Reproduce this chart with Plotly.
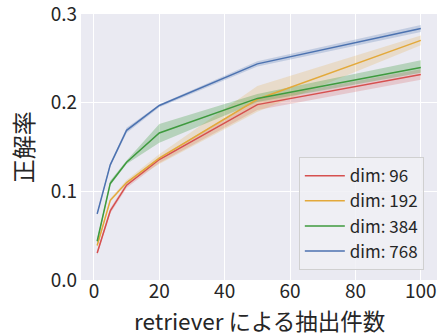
import plotly.graph_objects as go

x_vals = [1, 5, 10, 20, 50, 100]
labels = ["dim: 96", "dim: 192", "dim: 384", "dim: 768"]
mean_96 = [0.0305, 0.078, 0.107, 0.136, 0.198, 0.232]
low_96 = [0.028, 0.075, 0.104, 0.132, 0.192, 0.226]
high_96 = [0.033, 0.081, 0.110, 0.139, 0.204, 0.238]
mean_192 = [0.039, 0.090, 0.110, 0.1375, 0.204, 0.2705]
low_192 = [0.037, 0.088, 0.108, 0.131, 0.190, 0.265]
high_192 = [0.041, 0.092, 0.113, 0.142, 0.219, 0.276]
mean_384 = [0.0437, 0.109, 0.133, 0.166, 0.205, 0.240]
low_384 = [0.041, 0.107, 0.131, 0.155, 0.201, 0.234]
high_384 = [0.046, 0.112, 0.135, 0.176, 0.210, 0.248]
mean_768 = [0.0746, 0.130, 0.169, 0.197, 0.244, 0.284]
low_768 = [0.073, 0.128, 0.166, 0.195, 0.241, 0.280]
high_768 = [0.077, 0.132, 0.172, 0.198, 0.247, 0.288]
y_ticks = [0.0, 0.1, 0.2, 0.3]
x_ticks = [0, 20, 40, 60, 80, 100]

colors = ["#D6504F", "#E3A93A", "#3E9A3E", "#4C72B0"]
fills = ["rgba(214,80,79,0.22)", "rgba(227,169,58,0.22)", "rgba(62,154,62,0.3)", "rgba(76,114,176,0.25)"]
series = [(mean_96, low_96, high_96), (mean_192, low_192, high_192),
          (mean_384, low_384, high_384), (mean_768, low_768, high_768)]

fig = go.Figure()
for (m, lo, hi), lab, c, f in zip(series, labels, colors, fills):
    fig.add_trace(go.Scatter(x=x_vals, y=lo, mode="lines", line=dict(width=0),
                             showlegend=False, hoverinfo="skip"))
    fig.add_trace(go.Scatter(x=x_vals, y=hi, mode="lines", line=dict(width=0),
                             fill="tonexty", fillcolor=f, showlegend=False, hoverinfo="skip"))
for (m, lo, hi), lab, c in zip(series, labels, colors):
    fig.add_trace(go.Scatter(x=x_vals, y=m, mode="lines", name=lab,
                             line=dict(color=c, width=1.5)))

font = "Noto Sans CJK JP"
fig.update_layout(
    width=443, height=335,
    margin=dict(l=81, r=6, t=14, b=55),
    paper_bgcolor="white", plot_bgcolor="#EAEAF2",
    font=dict(family=font, color="#262626", size=19),
    xaxis=dict(range=[-3.95, 104.95], tickvals=x_ticks, showgrid=True, gridcolor="white",
               gridwidth=1.2, zeroline=False, showline=False, ticks="",
               tickfont=dict(size=19), ticklabelstandoff=-2,
               automargin=False, ticklabeloverflow="allow"),
    yaxis=dict(range=[0, 0.3003], tickvals=y_ticks, ticktext=["0.0", "0.1", "0.2", "0.3"],
               showgrid=True, gridcolor="white",
               gridwidth=1.2, zeroline=False, showline=False, ticks="",
               tickfont=dict(size=19), ticklabelstandoff=3, automargin=False,
               ticklabeloverflow="allow"),
    legend=dict(x=0.963, y=0.037, xanchor="right", yanchor="bottom", traceorder="normal",
                bgcolor="rgba(240,240,245,0.85)", bordercolor="#d0d0d0", borderwidth=1,
                font=dict(size=17), tracegroupgap=0, itemwidth=40),
    annotations=[
        dict(text="retriever による抽出件数", xref="paper", yref="paper", x=0.5, y=-0.15,
             xanchor="center", yanchor="middle", showarrow=False, font=dict(size=22.5)),
        dict(text="正解率", xref="paper", yref="paper", x=-0.165, y=0.5, textangle=-90,
             xanchor="center", yanchor="middle", showarrow=False, font=dict(size=24)),
    ],
)
fig.write_html("out.html", config={"displayModeBar": False},
               post_script="document.body.style.margin='0';")
